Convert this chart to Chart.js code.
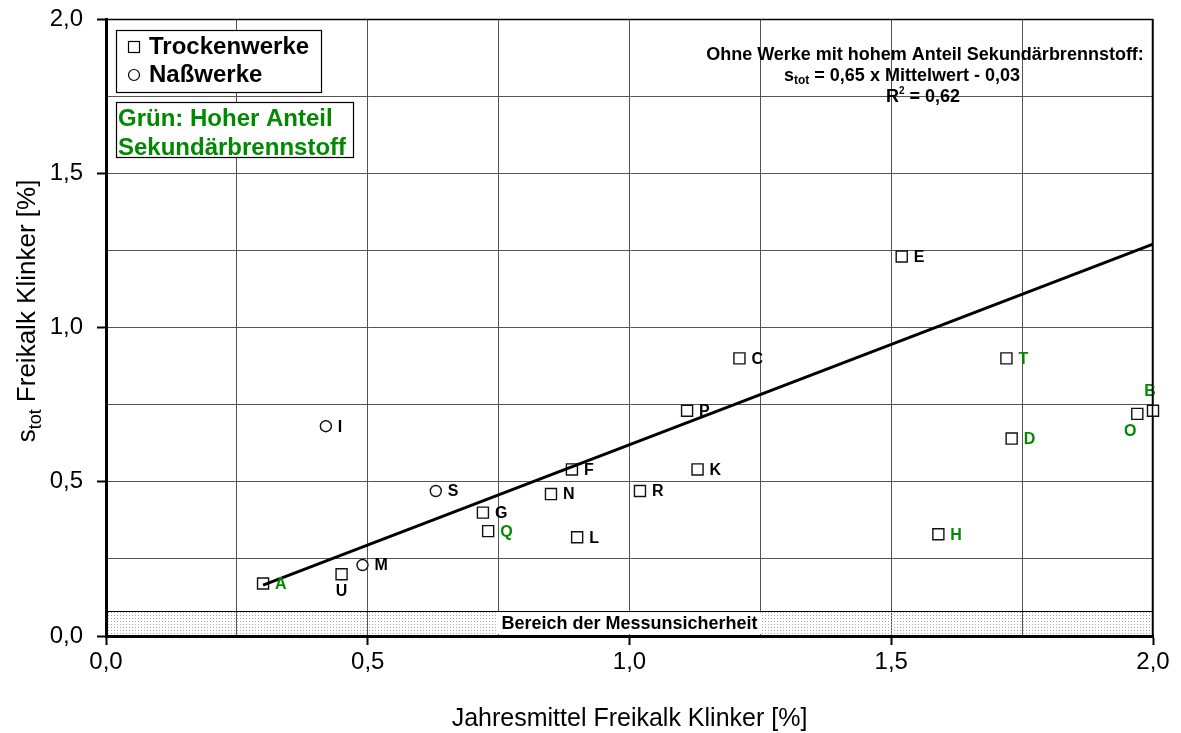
<!DOCTYPE html>
<html lang="de">
<head>
<meta charset="utf-8">
<title>Freikalk Klinker</title>
<script src="https://cdn.jsdelivr.net/npm/chart.js"></script>
<style>
  html, body { margin: 0; padding: 0; background: #fff; }
  #wrap { width: 1181px; height: 733px; position: relative; }
</style>
</head>
<body>
<div id="wrap"><canvas id="freikalkChart"></canvas></div>
<script>
// Trockenwerke (Quadrate)
const dryNames = ['A', 'U', 'G', 'Q', 'N', 'F', 'L', 'R', 'P', 'K', 'C', 'E', 'T', 'D', 'H', 'O', 'B'];
const dryMean  = [0.30, 0.45, 0.72, 0.73, 0.85, 0.89, 0.90, 1.02, 1.11, 1.13, 1.21, 1.52, 1.72, 1.73, 1.59, 1.97, 2.00];
const drySTot  = [0.17, 0.20, 0.40, 0.34, 0.46, 0.54, 0.32, 0.47, 0.73, 0.54, 0.90, 1.23, 0.90, 0.64, 0.33, 0.72, 0.73];

// Naßwerke (Kreise)
const wetNames = ['I', 'S', 'M'];
const wetMean  = [0.42, 0.63, 0.49];
const wetSTot  = [0.68, 0.47, 0.23];

// Werke mit hohem Anteil Sekundärbrennstoff
const greenPlants = ['A', 'Q', 'T', 'D', 'H', 'O', 'B'];

// Regression ohne Sekundärbrennstoff-Werke: s_tot = 0,65 x Mittelwert - 0,03
const regSlope = 0.65;
const regOffset = -0.03;
const regRange = [0.30, 2.00];

// Bereich der Messunsicherheit (obere Grenze)
const uncertaintyLimit = 0.08;

const axisTicks = [0.0, 0.5, 1.0, 1.5, 2.0];

const FONT = '"Liberation Sans", Arial, Helvetica, sans-serif';
const GREEN = '#008a00';

function toPoints(xs, ys) {
  return xs.map((x, i) => ({ x: x, y: ys[i] }));
}
const regLine = regRange.map(x => ({ x: x, y: regSlope * x + regOffset }));

// label placement around markers (pixels)
const labelOffsets = {
  U: { dx: 0, dy: 17, align: 'center' },
  O: { dx: -7, dy: 18, align: 'center' },
  B: { dx: -3, dy: -19, align: 'center' }
};

function fmt(v) {
  return v.toFixed(1).replace('.', ',');
}
function isMajor(v) {
  return axisTicks.some(t => Math.abs(t - v) < 1e-6);
}

// dotted fill for the uncertainty band
function makeDotPattern(ctx) {
  const c = document.createElement('canvas');
  c.width = 3; c.height = 3;
  const g = c.getContext('2d');
  g.fillStyle = '#a8a8a8';
  g.fillRect(0, 0, 1, 1);
  return ctx.createPattern(c, 'repeat');
}

const bandPlugin = {
  id: 'band',
  beforeDatasetsDraw(chart) {
    const { ctx, chartArea, scales } = chart;
    const yTop = scales.y.getPixelForValue(uncertaintyLimit);
    const yBot = scales.y.getPixelForValue(0);
    ctx.save();
    ctx.fillStyle = makeDotPattern(ctx);
    ctx.fillRect(chartArea.left, yTop, chartArea.right - chartArea.left, yBot - yTop);
    ctx.strokeStyle = '#000';
    ctx.lineWidth = 1;
    ctx.beginPath();
    ctx.moveTo(chartArea.left, Math.round(yTop) + 0.5);
    ctx.lineTo(chartArea.right, Math.round(yTop) + 0.5);
    ctx.stroke();

    const text = 'Bereich der Messunsicherheit';
    ctx.font = 'bold 18px ' + FONT;
    const w = ctx.measureText(text).width;
    const cx = (chartArea.left + chartArea.right) / 2;
    ctx.fillStyle = '#fff';
    ctx.fillRect(cx - w / 2 - 4, yTop + 1, w + 8, yBot - yTop - 3);
    ctx.fillStyle = '#000';
    ctx.textAlign = 'center';
    ctx.textBaseline = 'middle';
    ctx.fillText(text, cx, (yTop + yBot) / 2);
    ctx.restore();
  }
};

const overlayPlugin = {
  id: 'overlay',
  afterDatasetsDraw(chart) {
    const { ctx, scales } = chart;
    ctx.save();
    ctx.font = 'bold 16px ' + FONT;
    ctx.textBaseline = 'middle';
    const drawLabels = (names, xs, ys) => {
      names.forEach((n, i) => {
        const px = scales.x.getPixelForValue(xs[i]);
        const py = scales.y.getPixelForValue(ys[i]);
        const o = labelOffsets[n] || { dx: 12, dy: 1, align: 'left' };
        ctx.textAlign = o.align;
        ctx.fillStyle = greenPlants.includes(n) ? GREEN : '#000';
        ctx.fillText(n, px + o.dx, py + o.dy);
      });
    };
    drawLabels(dryNames, dryMean, drySTot);
    drawLabels(wetNames, wetMean, wetSTot);
    ctx.restore();
  },
  afterDraw(chart) {
    const { ctx, chartArea: a } = chart;
    ctx.save();

    // top and right frame
    ctx.strokeStyle = '#000';
    ctx.lineWidth = 1.5;
    ctx.beginPath();
    ctx.moveTo(a.left, a.top + 0.5);
    ctx.lineTo(a.right - 0.5, a.top + 0.5);
    ctx.lineTo(a.right - 0.5, a.bottom);
    ctx.stroke();

    // legend box: Trocken-/Naßwerke
    ctx.fillStyle = '#fff';
    ctx.fillRect(116, 30, 205, 62);
    ctx.lineWidth = 1.2;
    ctx.strokeRect(116.5, 30.5, 205, 62);
    ctx.strokeRect(128.5, 41.5, 11, 11);
    ctx.beginPath();
    ctx.arc(134, 75, 5.5, 0, Math.PI * 2);
    ctx.stroke();
    ctx.fillStyle = '#000';
    ctx.font = 'bold 24px ' + FONT;
    ctx.textAlign = 'left';
    ctx.textBaseline = 'middle';
    ctx.fillText('Trockenwerke', 149, 47);
    ctx.fillText('Naßwerke', 149, 75);

    // legend box: green marking
    ctx.fillStyle = '#fff';
    ctx.fillRect(116, 102, 237, 55);
    ctx.strokeRect(116.5, 102.5, 237, 55);
    ctx.fillStyle = GREEN;
    ctx.font = 'bold 24px ' + FONT;
    ctx.fillText('Grün: Hoher Anteil', 118, 119);
    ctx.fillText('Sekundärbrennstoff', 118, 148);

    // regression note
    ctx.fillStyle = '#000';
    ctx.font = 'bold 18px ' + FONT;
    ctx.textAlign = 'center';
    ctx.fillText('Ohne Werke mit hohem Anteil Sekundärbrennstoff:', 925, 55);
    ctx.textAlign = 'left';
    let x = 784;
    ctx.fillText('s', x, 76);
    x += ctx.measureText('s').width;
    ctx.font = 'bold 12px ' + FONT;
    ctx.fillText('tot', x, 81);
    x += ctx.measureText('tot').width;
    ctx.font = 'bold 18px ' + FONT;
    ctx.fillText(' = 0,65 x Mittelwert - 0,03', x, 76);
    x = 886;
    ctx.fillText('R', x, 97);
    x += ctx.measureText('R').width;
    ctx.font = 'bold 10px ' + FONT;
    ctx.fillText('2', x, 91);
    x += ctx.measureText('2').width;
    ctx.font = 'bold 18px ' + FONT;
    ctx.fillText(' = 0,62', x, 97);

    // axis titles
    ctx.font = '25px ' + FONT;
    ctx.textAlign = 'center';
    ctx.textBaseline = 'alphabetic';
    ctx.fillText('Jahresmittel Freikalk Klinker [%]', (a.left + a.right) / 2, 726);

    ctx.translate(35, 311);
    ctx.rotate(-Math.PI / 2);
    const main = ' Freikalk Klinker [%]';
    ctx.font = '26px ' + FONT;
    const wS = ctx.measureText('s').width;
    const wMain = ctx.measureText(main).width;
    ctx.font = '18px ' + FONT;
    const wSub = ctx.measureText('tot').width;
    let tx = -(wS + wSub + wMain) / 2;
    ctx.textAlign = 'left';
    ctx.font = '26px ' + FONT;
    ctx.fillText('s', tx, 0);
    tx += wS;
    ctx.font = '18px ' + FONT;
    ctx.fillText('tot', tx, 6);
    tx += wSub;
    ctx.font = '26px ' + FONT;
    ctx.fillText(main, tx, 0);
    ctx.restore();
  }
};

const gridOpts = {
  color: '#555',
  lineWidth: 1,
  tickLength: 9,
  tickWidth: 2,
  tickColor: c => (c.tick && isMajor(c.tick.value)) ? '#000' : 'rgba(0,0,0,0)'
};

new Chart(document.getElementById('freikalkChart').getContext('2d'), {
  type: 'scatter',
  data: {
    datasets: [
      {
        label: 'Regression',
        type: 'line',
        data: regLine,
        borderColor: '#000',
        borderWidth: 3,
        pointRadius: 0,
        fill: false,
        clip: false
      },
      {
        label: 'Trockenwerke',
        data: toPoints(dryMean, drySTot),
        pointStyle: 'rect',
        pointRadius: 7.8,
        backgroundColor: '#fff',
        borderColor: '#111',
        borderWidth: 1.4,
        clip: false
      },
      {
        label: 'Naßwerke',
        data: toPoints(wetMean, wetSTot),
        pointStyle: 'circle',
        pointRadius: 5.5,
        backgroundColor: '#fff',
        borderColor: '#111',
        borderWidth: 1.4,
        clip: false
      }
    ]
  },
  options: {
    responsive: true,
    maintainAspectRatio: false,
    animation: false,
    layout: { padding: { top: 19, right: 28, left: 0, bottom: 0 } },
    plugins: {
      legend: { display: false },
      tooltip: { enabled: false }
    },
    scales: {
      x: {
        type: 'linear',
        min: 0,
        max: 2,
        afterFit: s => { s.height = 97; s.paddingLeft = 0; s.paddingRight = 0; },
        grid: gridOpts,
        border: { display: true, color: '#000', width: 3 },
        ticks: {
          stepSize: 0.25,
          autoSkip: false,
          maxRotation: 0,
          padding: 3,
          color: '#000',
          font: { family: FONT, size: 24 },
          callback: v => isMajor(v) ? fmt(v) : ''
        }
      },
      y: {
        type: 'linear',
        min: 0,
        max: 2,
        afterFit: s => { s.width = 106; s.paddingTop = 0; s.paddingBottom = 0; },
        grid: gridOpts,
        border: { display: true, color: '#000', width: 3 },
        ticks: {
          stepSize: 0.25,
          autoSkip: false,
          padding: 14,
          color: '#000',
          font: { family: FONT, size: 24 },
          callback: v => isMajor(v) ? fmt(v) : ''
        }
      }
    }
  },
  plugins: [bandPlugin, overlayPlugin]
});
</script>
</body>
</html>
